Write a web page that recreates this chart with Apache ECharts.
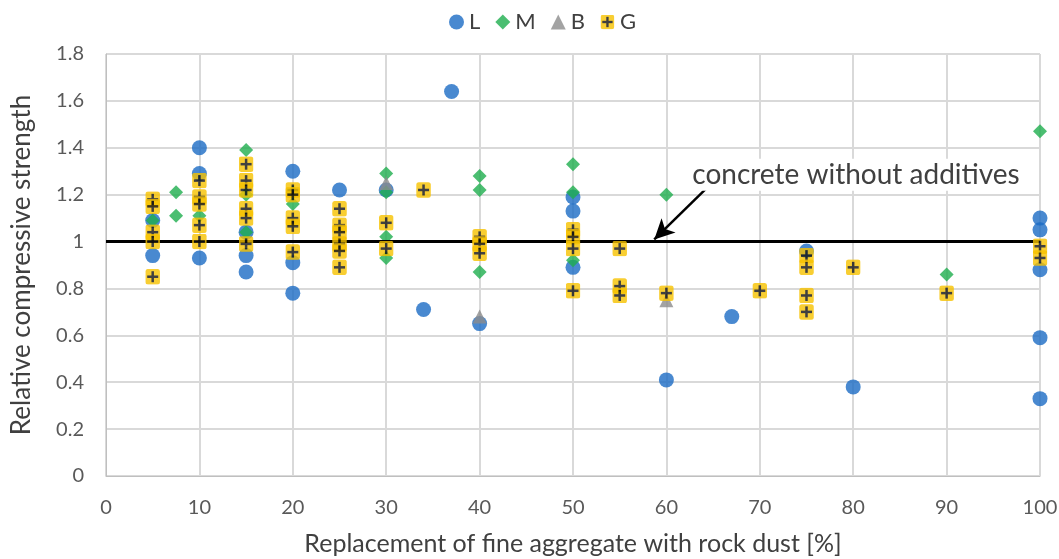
<!DOCTYPE html>
<html>
<head>
<meta charset="utf-8">
<script src="https://cdn.jsdelivr.net/npm/echarts@6/dist/echarts.min.js"></script>
<style>
html,body{margin:0;padding:0;background:#fff;}
#chart{width:1059px;height:559px;}
</style>
</head>
<body>
<div id="chart"></div>
<script>
// Data: [replacement %, relative compressive strength]
const seriesNames = ['L', 'M', 'B', 'G'];
const dataL = [
  [5, 1.09], [5, 0.94],
  [10, 1.40], [10, 1.29], [10, 0.93],
  [15, 1.04], [15, 0.94], [15, 0.87],
  [20, 1.30], [20, 0.91], [20, 0.78],
  [25, 1.22],
  [30, 1.22],
  [34, 0.71],
  [37, 1.64],
  [40, 0.65],
  [50, 1.19], [50, 1.13], [50, 0.89],
  [60, 0.41],
  [67, 0.68],
  [75, 0.96],
  [80, 0.38],
  [100, 1.10], [100, 1.05], [100, 0.88], [100, 0.59], [100, 0.33]
];
const dataM = [
  [5, 1.09],
  [7.5, 1.21], [7.5, 1.11],
  [10, 1.11],
  [15, 1.39], [15, 1.20], [15, 1.04],
  [20, 1.21], [20, 1.16],
  [30, 1.29], [30, 1.21], [30, 1.02], [30, 0.93],
  [40, 1.28], [40, 1.22], [40, 0.87],
  [50, 1.33], [50, 1.21], [50, 0.92],
  [60, 1.20],
  [90, 0.86],
  [100, 1.47]
];
const dataB = [
  [30, 1.25],
  [40, 0.68],
  [60, 0.75]
];
const dataG = [
  [5, 1.18], [5, 1.15], [5, 1.04], [5, 1.00], [5, 0.85],
  [10, 1.26], [10, 1.19], [10, 1.16], [10, 1.07], [10, 1.00],
  [15, 1.33], [15, 1.26], [15, 1.22], [15, 1.14], [15, 1.10], [15, 0.99],
  [20, 1.22], [20, 1.20], [20, 1.10], [20, 1.065], [20, 0.955],
  [25, 1.14], [25, 1.07], [25, 1.04], [25, 0.99], [25, 0.96], [25, 0.89],
  [30, 1.08], [30, 0.97],
  [34, 1.22],
  [40, 1.02], [40, 0.99], [40, 0.95],
  [50, 1.05], [50, 1.02], [50, 0.97], [50, 0.79],
  [55, 0.97], [55, 0.81], [55, 0.77],
  [60, 0.78],
  [70, 0.79],
  [75, 0.94], [75, 0.89], [75, 0.77], [75, 0.70],
  [80, 0.89],
  [90, 0.78],
  [100, 0.98], [100, 0.93]
];
const referenceValue = 1;
const annotationText = 'concrete without additives';
const arrowFrom = [64.5, 1.235];
const arrowTo = [58.7, 1.009];
const annotationAt = [80.3, 1.285];

const xTitle = 'Replacement of fine aggregate with rock dust [%]';
const yTitle = 'Relative compressive strength';

const gSvg = '<svg xmlns="http://www.w3.org/2000/svg" width="30" height="32" viewBox="0 0 30 32">' +
  '<rect x="0.5" y="0.5" width="29" height="31" rx="5" ry="5" fill="#F7C200"/>' +
  '<rect x="12.5" y="5" width="5" height="22" fill="#111"/>' +
  '<rect x="4" y="13.5" width="22" height="5" fill="#111"/></svg>';
const gSymbol = 'image://data:image/svg+xml;charset=utf-8,' + encodeURIComponent(gSvg);

const FONT = 'Lato, "Open Sans", sans-serif';
const chart = echarts.init(document.getElementById('chart'), null, {renderer: 'canvas'});

chart.setOption({
  animation: false,
  backgroundColor: '#fff',
  textStyle: {fontFamily: FONT},
  legend: {
    data: seriesNames,
    top: 6,
    left: 444,
    itemWidth: 15,
    itemHeight: 15,
    itemGap: 15,
    textStyle: {fontFamily: FONT, fontSize: 22, color: '#404040'}
  },
  grid: {left: 106, right: 19, top: 54, bottom: 83, containLabel: false, outerBoundsMode: 'none'},
  xAxis: {
    type: 'value', min: 0, max: 100, interval: 10,
    name: xTitle, nameLocation: 'middle', nameGap: 55,
    nameTextStyle: {fontFamily: FONT, fontSize: 25, color: '#404040'},
    axisLine: {show: true, lineStyle: {color: '#bfbfbf', width: 1}},
    axisTick: {show: false},
    axisLabel: {fontFamily: FONT, fontSize: 20, color: '#595959', margin: 22},
    splitLine: {show: true, lineStyle: {color: '#d9d9d9', width: 2}}
  },
  yAxis: {
    type: 'value', min: 0, max: 1.8, interval: 0.2,
    name: yTitle, nameLocation: 'middle', nameGap: 71, nameRotate: 90,
    nameTextStyle: {fontFamily: FONT, fontSize: 26, color: '#404040'},
    axisLine: {show: true, lineStyle: {color: '#bfbfbf', width: 1}},
    axisTick: {show: false},
    axisLabel: {fontFamily: FONT, fontSize: 20, color: '#595959', margin: 22},
    splitLine: {show: true, lineStyle: {color: '#d9d9d9', width: 2}}
  },
  series: [
    {
      name: 'ref', type: 'scatter', data: [], silent: true, z: 1,
      markLine: {
        silent: true, animation: false,
        symbol: ['none', 'none'],
        label: {show: false},
        lineStyle: {color: '#000', width: 3, type: 'solid'},
        data: [{yAxis: referenceValue}]
      }
    },
    {
      name: 'L', type: 'scatter', data: dataL, symbol: 'circle', symbolSize: 15,
      itemStyle: {color: '#1C6CC4'}, z: 3
    },
    {
      name: 'M', type: 'scatter', data: dataM, symbol: 'diamond', symbolSize: 14,
      itemStyle: {color: '#1EAE4E'}, z: 4
    },
    {
      name: 'B', type: 'scatter', data: dataB, symbol: 'triangle', symbolSize: 14,
      itemStyle: {color: '#8C8C8C'}, z: 5
    },
    {
      name: 'G', type: 'scatter', data: dataG, symbol: gSymbol, symbolSize: [15, 16],
      itemStyle: {color: '#F7C200'}, z: 6
    },
    {
      name: 'annot', type: 'scatter', data: [], silent: true, z: 10,
      markLine: {
        silent: true, animation: false,
        symbol: ['none', 'arrow'], symbolSize: [15, 20],
        label: {show: false},
        lineStyle: {color: '#000', width: 2.5, type: 'solid'},
        data: [[{coord: arrowFrom}, {coord: arrowTo}]]
      },
      markPoint: {
        silent: true, animation: false,
        symbol: 'circle', symbolSize: 1,
        itemStyle: {color: 'rgba(0,0,0,0)'},
        label: {
          show: true, position: 'inside', formatter: annotationText,
          fontFamily: FONT, fontSize: 28, color: '#404040',
          backgroundColor: '#fff', padding: [2, 4]
        },
        data: [{coord: annotationAt}]
      }
    }
  ]
});
</script>
</body>
</html>
